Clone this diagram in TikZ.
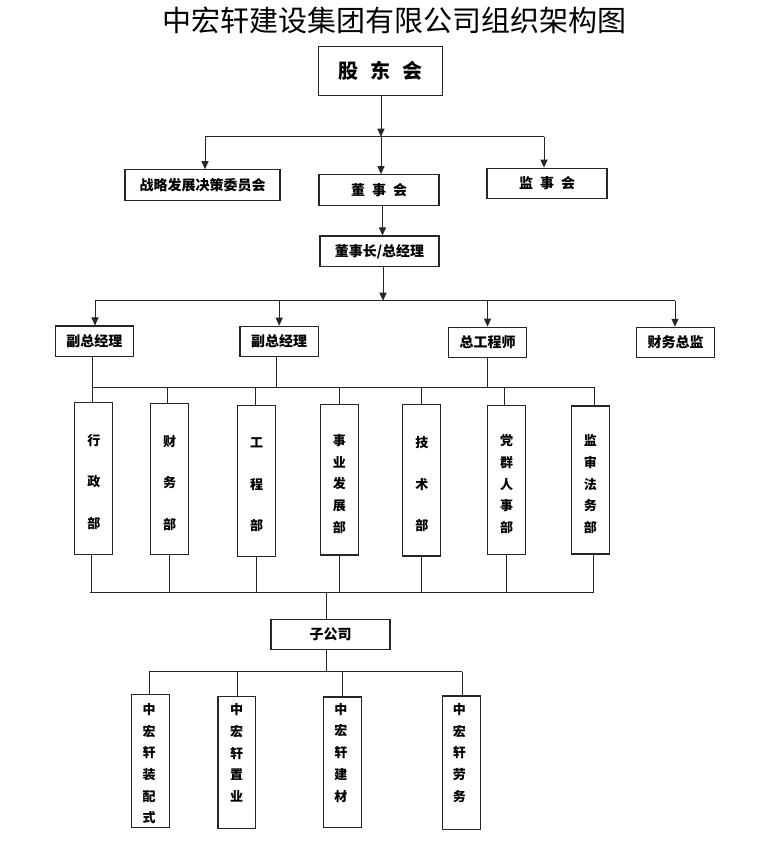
\documentclass[tikz,border=0pt]{standalone}
\usepackage{fontspec}
\setmainfont{Noto Sans CJK SC}
\usetikzlibrary{arrows.meta}
\begin{document}
\begin{tikzpicture}[x=1pt,y=-1pt,
  box/.style={draw=black!85,line width=1.2pt,rectangle,inner sep=0pt,font=\bfseries\fontsize{14}{16}\selectfont},
  hbox/.style={box,minimum width=#1,minimum height=30.5pt},
  vbox/.style={box,minimum width=38pt,minimum height=#1},
  vtA/.style={align=center,inner sep=0pt,font=\bfseries\fontsize{13}{41.6}\selectfont},
  vtB/.style={align=center,inner sep=0pt,font=\bfseries\fontsize{13}{21.7}\selectfont},
  conn/.style={draw=black!85,line width=1pt},
  arr/.style={conn,-{Triangle[length=8pt,width=7pt]}}]
\useasboundingbox[fill=white] (0,0) rectangle (759,867);

% title
\node[font=\fontsize{29}{32}\selectfont] (title) at (394,20) {中宏轩建设集团有限公司组织架构图};

% top level
\node[box,minimum width=124.4pt,minimum height=49pt,font=\bfseries\fontsize{20}{22}\selectfont] (gd) at (380.5,71.2) {股\hspace{12pt}东\hspace{12pt}会};
\node[hbox=155pt] (zl) at (202.5,185) {战略发展决策委员会};
\node[hbox=120pt] (dsh) at (379,190) {董\hspace{7pt}事\hspace{7pt}会};
\node[hbox=120pt] (jsh) at (547,183.5) {监\hspace{7pt}事\hspace{7pt}会};
\node[hbox=119pt] (dsz) at (379.5,251.3) {董事长/总经理};

\coordinate (b1L) at (205,136.7);
\coordinate (b1R) at (544,136.7);
\coordinate (b1M) at (381,136.7);
\draw[arr] (gd.south -| b1M) -- (b1M);
\draw[conn] (b1L) -- (b1R);
\draw[arr] (b1L) -- (b1L |- zl.north);
\draw[arr] (b1M) -- (b1M |- dsh.north);
\draw[arr] (b1R) -- (b1R |- jsh.north);
\draw[arr] ([xshift=3.5pt]dsh.south) -- ([xshift=3.5pt]dsh.south |- dsz.north);

% second level
\node[hbox=78pt] (f1) at (94.3,341.3) {副总经理};
\node[hbox=78.3pt] (f2) at (279.2,341.5) {副总经理};
\node[hbox=78.4pt] (zg) at (487.5,342.5) {总工程师};
\node[hbox=78.4pt] (cw) at (675.5,342.6) {财务总监};

\coordinate (b2L) at (95,300.7);
\coordinate (b2R) at (675,300.7);
\coordinate (b2M) at (383,300.7);
\draw[arr] ([xshift=3.5pt]dsz.south) -- (b2M);
\draw[conn] (b2L) -- (b2R);
\draw[arr] (b2L) -- (b2L |- f1.north);
\draw[arr] (f2.north |- b2L) -- (f2.north);
\draw[arr] (zg.north |- b2L) -- (zg.north);
\draw[arr] (b2R) -- (b2R |- cw.north);

% departments
\node[vbox=151.6pt] (d1) at (93.8,478.5) {};
\node[vbox=151pt] (d2) at (169.7,478.8) {};
\node[vbox=151.4pt] (d3) at (256.7,481) {};
\node[vbox=150.3pt] (d4) at (339.3,479.8) {};
\node[vbox=151.7pt] (d5) at (421.8,480.2) {};
\node[vbox=149pt] (d6) at (506.5,479.8) {};
\node[vbox=148pt] (d7) at (590.3,480) {};

\node[vtA] at ([yshift=-3.5pt]d1.center) {行\\政\\部};
\node[vtA] at ([yshift=-4pt]d2.center) {财\\务\\部};
\node[vtA] at ([yshift=-4pt]d3.center) {工\\程\\部};
\node[vtB] at ([yshift=-4pt]d4.center) {事\\业\\发\\展\\部};
\node[vtA] at ([yshift=-4pt]d5.center) {技\\术\\部};
\node[vtB] at ([yshift=-4.4pt]d6.center) {党\\群\\人\\事\\部};
\node[vtB] at ([yshift=-4.2pt]d7.center) {监\\审\\法\\务\\部};

\coordinate (b3L) at (92.7,387.3);
\coordinate (b3R) at (594,387.3);
\draw[conn] (b3L) -- (b3R);
\draw[conn] (f1.south -| b3L) -- (b3L |- d1.north);
\draw[conn] ([xshift=-2.5pt]f2.south) -- ([xshift=-2.5pt]f2.south |- b3L);
\draw[conn] (zg.south) -- (zg.south |- b3L);
\draw[conn] ([xshift=-2pt]d2.north |- b3L) -- ([xshift=-2pt]d2.north);
\draw[conn] ([xshift=-1.4pt]d3.north |- b3L) -- ([xshift=-1.4pt]d3.north);
\draw[conn] (d4.north |- b3L) -- (d4.north);
\draw[conn] (d5.north |- b3L) -- (d5.north);
\draw[conn] ([xshift=-2pt]d6.north |- b3L) -- ([xshift=-2pt]d6.north);
\draw[conn] (b3R) -- (b3R |- d7.north);

% bus to subsidiaries
\coordinate (b4L) at (90,592.7);
\coordinate (b4R) at (593.3,592.7);
\draw[conn] (b4L) -- (b4R);
\draw[conn] ([xshift=-2pt]d1.south) -- ([xshift=-2pt]d1.south |- b4L);
\draw[conn] (d2.south) -- (d2.south |- b4L);
\draw[conn] (d3.south) -- (d3.south |- b4L);
\draw[conn] (d4.south) -- (d4.south |- b4L);
\draw[conn] (d5.south) -- (d5.south |- b4L);
\draw[conn] (d6.south) -- (d6.south |- b4L);
\draw[conn] (d7.south -| b4R) -- (b4R);

\node[hbox=119pt,minimum height=29.8pt] (zgs) at (330.5,634.4) {子公司};
\draw[conn] ([xshift=-3.8pt]zgs.north |- b4L) -- ([xshift=-3.8pt]zgs.north);

\node[vbox=133.4pt,minimum width=37.6pt] (s1) at (150.5,761) {};
\node[vbox=131.6pt,minimum width=37.6pt] (s2) at (236.7,762.5) {};
\node[vbox=130.7pt,minimum width=37.6pt] (s3) at (342.3,762.3) {};
\node[vbox=133.3pt,minimum width=37.6pt] (s4) at (461.3,762.7) {};

\node[vtB] at ([xshift=-1.5pt,yshift=-70pt]s1.north) {中\\宏\\轩\\装\\配\\式};
\node[vtB] at ([yshift=-56.7pt]s2.north) {中\\宏\\轩\\置\\业};
\node[vtB] at ([xshift=-1.5pt,yshift=-56.4pt]s3.north) {中\\宏\\轩\\建\\材};
\node[vtB] at ([xshift=-2pt,yshift=-57.4pt]s4.north) {中\\宏\\轩\\劳\\务};

\coordinate (b5L) at (149,671.7);
\coordinate (b5R) at (462.3,671.7);
\draw[conn] ([xshift=-3.8pt]zgs.south) -- ([xshift=-3.8pt]zgs.south |- b5L);
\draw[conn] (b5L) -- (b5R);
\draw[conn] (b5L) -- (b5L |- s1.north);
\draw[conn] ([xshift=1pt]s2.north |- b5L) -- ([xshift=1pt]s2.north);
\draw[conn] (s3.north |- b5L) -- (s3.north);
\draw[conn] (b5R) -- (b5R |- s4.north);
\end{tikzpicture}
\end{document}
